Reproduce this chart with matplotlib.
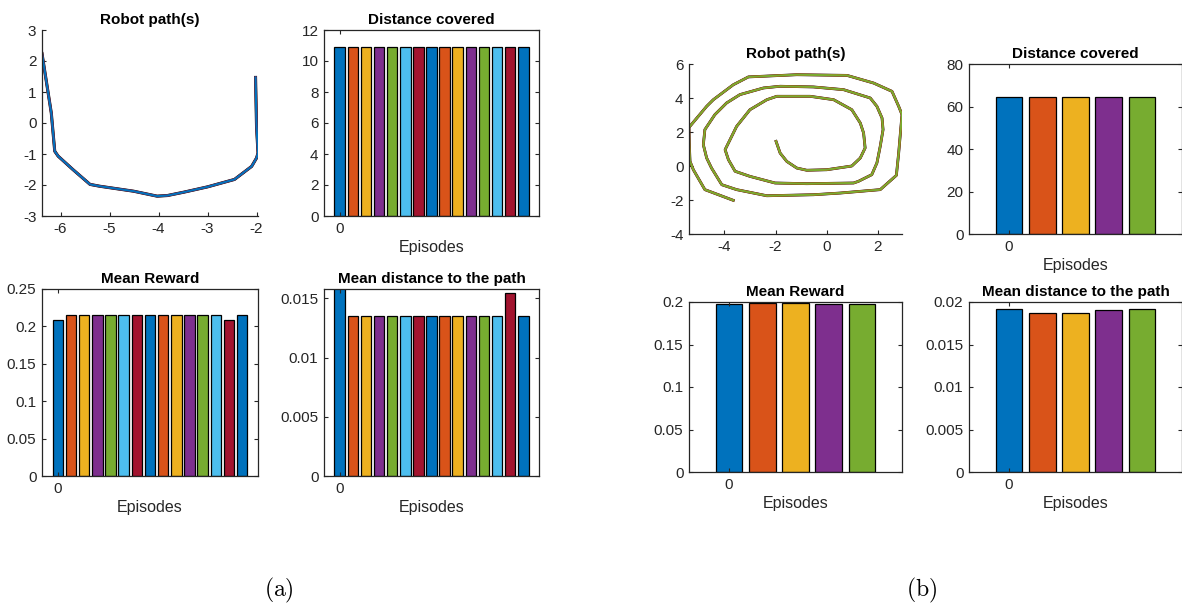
import matplotlib
matplotlib.use("Agg")
import matplotlib.pyplot as plt
import numpy as np

plt.rcParams['font.family'] = ['Liberation Sans', 'DejaVu Sans']
plt.rcParams['mathtext.fontset'] = 'cm'

# ---------------- data ----------------
matlab_colors = ['#0072BD', '#D95319', '#EDB120', '#7E2F8E', '#77AC30', '#4DBEEE', '#A2142F']

# (a) robot path
path_a_x = [-6.38, -6.19, -6.12, -6.05, -5.75, -5.40, -5.20, -4.51, -4.03, -3.82,
            -3.48, -3.00, -2.45, -2.10, -2.00, -1.97, -2.00, -2.02]
path_a_y = [2.24, 0.32, -0.91, -1.07, -1.50, -1.98, -2.04, -2.20, -2.36, -2.34,
            -2.23, -2.06, -1.82, -1.40, -1.13, -0.97, -0.11, 1.47]

# (a) per-episode metrics (15 episodes)
dist_a = [10.9] * 15
reward_a = [0.208, 0.215, 0.215, 0.215, 0.215, 0.215, 0.215, 0.215, 0.215, 0.215,
            0.215, 0.215, 0.215, 0.209, 0.215]
meandist_a = [0.0162, 0.0135, 0.0135, 0.0135, 0.0135, 0.0135, 0.0135, 0.0135, 0.0135,
              0.0135, 0.0135, 0.0135, 0.0135, 0.01548, 0.0135]

# (b) robot path (spiral, from inner start to outer end)
path_b_x = [-1.98, -1.82, -1.56, -1.17, -0.78, 0.00, 0.98, 1.31, 1.50, 1.44, 1.31, 0.98,
            0.27, -0.65, -1.95, -2.34, -3.00, -3.52, -3.97, -3.84, -3.58, -3.00, -2.02,
            -0.78, 1.05, 1.24, 1.76, 1.96, 2.09, 2.20, 2.16, 1.96, 1.70, 0.66, -0.52,
            -1.82, -2.47, -3.39, -3.91, -4.37, -4.76, -4.82, -4.69, -4.50, -4.10, -3.52,
            -2.34, -0.52, 0.53, 2.09, 2.72, 2.81, 2.94, 2.81, 2.55, 1.83, 0.79, -1.17,
            -3.06, -3.65, -4.43, -4.69, -5.38, -5.37, -5.34, -5.21, -4.76, -3.65]
path_b_y = [1.45, 0.76, 0.27, -0.12, -0.25, -0.22, 0.00, 0.47, 1.06, 1.94, 2.53, 3.31,
            3.90, 4.10, 4.10, 3.90, 3.31, 2.33, 0.96, 0.37, -0.31, -0.61, -1.00,
            -1.04, -1.00, -0.90, -0.51, 0.18, 1.16, 2.14, 2.82, 3.51, 4.00, 4.49, 4.65,
            4.69, 4.59, 4.20, 3.71, 3.02, 2.14, 1.25, 0.47, -0.12, -1.10, -1.39,
            -1.75, -1.69, -1.59, -1.39, -0.55, 0.76, 3.02, 3.51, 4.39, 4.88, 5.33, 5.37,
            5.24, 4.78, 3.90, 3.51, 2.27, 1.35, 0.27, -0.22, -1.39, -2.02]

# (b) per-episode metrics (5 episodes)
dist_b = [64.4, 64.4, 64.4, 64.4, 64.4]
reward_b = [0.1972, 0.1984, 0.1984, 0.1976, 0.1972]
meandist_b = [0.01918, 0.01871, 0.01871, 0.01906, 0.01914]

# ---------------- figure ----------------
W, H = 1182, 608
fig = plt.figure(figsize=(W / 100, H / 100), dpi=100)

def add_axes(left, right, top, bottom):
    return fig.add_axes([left / W, 1 - bottom / H, (right - left) / W, (bottom - top) / H])

spine_c = '#262626'
tick_fs = 11
title_fs = 11
label_fs = 11.5

def style(ax, box):
    for s in ax.spines.values():
        s.set_color(spine_c)
        s.set_linewidth(0.9)
    if not box:
        ax.spines['top'].set_visible(False)
        ax.spines['right'].set_visible(False)
    ax.tick_params(direction='in', length=3, width=0.8, colors=spine_c,
                   labelsize=tick_fs, labelcolor=spine_c, pad=4,
                   top=box, right=box)

def path_plot(ax, xs, ys, line_colors, xticks, yticks, ylim):
    for c, lw in line_colors:
        ax.plot(xs, ys, color=c, lw=lw, solid_joinstyle='round')
    ax.set_xlim(min(xs), max(xs))
    ax.set_ylim(*ylim)
    ax.set_xticks(xticks)
    ax.set_yticks(yticks)
    ax.set_yticklabels([f'{t:g}' for t in yticks])
    ax.set_xticklabels([f'{t:g}' for t in xticks])
    ax.set_title('Robot path(s)', fontsize=title_fs, fontweight='bold', pad=4)
    style(ax, False)

def bar_plot(ax, vals, title, ylim, yticks, ylabels):
    n = len(vals)
    xs = np.arange(n)
    cols = [matlab_colors[i % len(matlab_colors)] for i in range(n)]
    ax.bar(xs, vals, width=0.8, color=cols, edgecolor='black', linewidth=0.9)
    ax.set_xlim(-1.2, n + 0.2)
    ax.set_ylim(*ylim)
    ax.set_xticks([0])
    ax.set_xticklabels(['0'])
    ax.set_yticks(yticks)
    ax.set_yticklabels(ylabels)
    ax.set_title(title, fontsize=title_fs, fontweight='bold', pad=4)
    ax.set_xlabel('Episodes', fontsize=label_fs, color=spine_c, labelpad=3)
    style(ax, True)

# ---- (a) ----
ax = add_axes(42, 258, 30, 216)
path_plot(ax, path_a_x, path_a_y,
          [('black', 2.2), ('#A2142F', 1.8), ('#0072BD', 1.5)],
          [-6, -5, -4, -3, -2], [-3, -2, -1, 0, 1, 2, 3], (-3, 3))

ax = add_axes(324, 539, 30, 216)
bar_plot(ax, dist_a, 'Distance covered', (0, 12), [0, 2, 4, 6, 8, 10, 12],
         ['0', '2', '4', '6', '8', '10', '12'])

ax = add_axes(42, 258, 289, 476)
bar_plot(ax, reward_a, 'Mean Reward', (0, 0.25), [0, 0.05, 0.1, 0.15, 0.2, 0.25],
         ['0', '0.05', '0.1', '0.15', '0.2', '0.25'])

ax = add_axes(324, 539, 289, 476)
bar_plot(ax, meandist_a, 'Mean distance to the path', (0, 0.0158), [0, 0.005, 0.01, 0.015],
         ['0', '0.005', '0.01', '0.015'])

# ---- (b) ----
ax = add_axes(689, 902, 64, 234)
path_plot(ax, path_b_x, path_b_y,
          [('black', 2.0), ('#D95319', 1.7), ('#77AC30', 1.4)],
          [-4, -2, 0, 2], [-4, -2, 0, 2, 4, 6], (-4, 6))

ax = add_axes(969, 1182, 64, 234)
bar_plot(ax, dist_b, 'Distance covered', (0, 80), [0, 20, 40, 60, 80],
         ['0', '20', '40', '60', '80'])

ax = add_axes(689, 902, 302, 472)
bar_plot(ax, reward_b, 'Mean Reward', (0, 0.2), [0, 0.05, 0.1, 0.15, 0.2],
         ['0', '0.05', '0.1', '0.15', '0.2'])

ax = add_axes(969, 1182, 302, 472)
bar_plot(ax, meandist_b, 'Mean distance to the path', (0, 0.02), [0, 0.005, 0.01, 0.015, 0.02],
         ['0', '0.005', '0.01', '0.015', '0.02'])

# captions
fig.text(279 / W, 1 - 590 / H, r'$\mathrm{(a)}$', fontsize=17, ha='center', va='center')
fig.text(922 / W, 1 - 590 / H, r'$\mathrm{(b)}$', fontsize=17, ha='center', va='center')

fig.savefig('out.png', dpi=100, facecolor='white')
